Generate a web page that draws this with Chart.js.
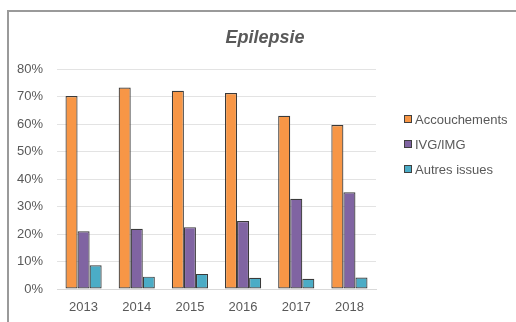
<!DOCTYPE html>
<html>
<head>
<meta charset="utf-8">
<script src="https://cdn.jsdelivr.net/npm/chart.js@4/dist/chart.umd.min.js"></script>
<style>
  body { margin: 0; background: #fff; overflow: hidden; }
  .frame { position: absolute; left: 7px; top: 10px; width: 520px; height: 330px; border: 2px solid #9a9a9a; box-sizing: border-box; }
  .wrap { position: absolute; left: 0; top: 0; width: 516px; height: 322px; }
</style>
</head>
<body>
<div class="frame"></div>
<div class="wrap"><canvas id="myChart" width="516" height="322"></canvas></div>
<script>
var years = ["2013", "2014", "2015", "2016", "2017", "2018"];
var accouchements = [70.2, 73.3, 72.1, 71.3, 63.0, 59.6];
var ivgImg = [21.0, 21.9, 22.5, 24.7, 32.8, 35.2];
var autresIssues = [8.6, 4.5, 5.5, 4.1, 3.7, 4.2];
var seriesNames = ["Accouchements", "IVG/IMG", "Autres issues"];
var barColors = ["#f79646", "#8064a2", "#4bacc6"];
var chartTitle = "Epilepsie"

var textColor = "#595959"
var font = "'Liberation Sans', Arial, sans-serif"

// title and legend drawn by hand, to sit where the spreadsheet put them
var sideLegend = {
  id: "sideLegend",
  afterDraw: function(chart) {
    var ctx = chart.ctx
    ctx.save()
    ctx.fillStyle = textColor
    ctx.font = "italic bold 18px " + font
    ctx.textAlign = "center"
    ctx.textBaseline = "middle"
    ctx.fillText(chartTitle, 265, 38)

    ctx.textAlign = "left"
    ctx.font = "13px " + font
    chart.data.datasets.forEach(function(ds, i) {
      var y = 119 + i * 25
      ctx.fillStyle = ds.backgroundColor
      ctx.fillRect(404, y - 4, 8, 8)
      ctx.strokeStyle = "#404040"
      ctx.lineWidth = 1
      ctx.strokeRect(404.5, y - 3.5, 7, 7)
      ctx.fillStyle = textColor
      ctx.fillText(ds.label, 415, y + 1)
    })
    ctx.restore()
  }
}

new Chart("myChart", {
  type: "bar",
  data: {
    labels: years,
    datasets: [
      { label: seriesNames[0], data: accouchements, backgroundColor: barColors[0] },
      { label: seriesNames[1], data: ivgImg, backgroundColor: barColors[1] },
      { label: seriesNames[2], data: autresIssues, backgroundColor: barColors[2] }
    ]
  },
  options: {
    responsive: false,
    animation: false,
    layout: { padding: { left: 7, right: 140, bottom: 9, top: 69 } },
    datasets: {
      bar: {
        categoryPercentage: 0.68,
        barPercentage: 1,
        borderColor: "#3a3a3a",
        borderWidth: 1.2,
        borderSkipped: false
      }
    },
    plugins: {
      legend: { display: false },
      tooltip: { enabled: false },
      title: { display: false }
    },
    scales: {
      x: {
        afterFit: function(s) { s.height = 24 },
        grid: { display: false, drawTicks: false },
        border: { color: "#d9d9d9" },
        ticks: { color: textColor, font: { family: font, size: 13 }, padding: 11 }
      },
      y: {
        min: 0,
        max: 80,
        afterFit: function(s) { s.width = 50 },
        grid: { color: "#e3e3e3", drawTicks: false },
        border: { display: false },
        ticks: {
          stepSize: 10,
          padding: 14,
          color: textColor,
          font: { family: font, size: 13 },
          callback: function(v) { return v + "%" }
        }
      }
    }
  },
  plugins: [sideLegend]
});
</script>
</body>
</html>
